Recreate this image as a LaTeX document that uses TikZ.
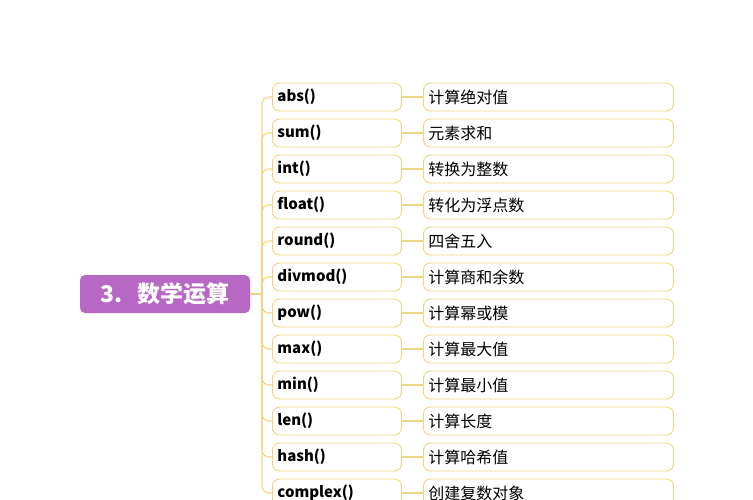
\documentclass[tikz,border=0pt]{standalone}
\usepackage{fontspec}
\setmainfont{Noto Sans CJK SC}
\usetikzlibrary{calc}
\definecolor{rootpurple}{RGB}{183,104,197}
\definecolor{boxyellow}{RGB}{240,214,130}

\tikzset{
  root/.style={fill=rootpurple, rounded corners=5pt, text=white, inner sep=0pt,
    minimum width=170pt, minimum height=38pt,
    font=\bfseries\fontsize{23}{23}\selectfont},
  fnbox/.style={draw=boxyellow, fill=white, rounded corners=7pt, anchor=west,
    line width=0.9pt, inner xsep=5pt, inner ysep=0pt, minimum height=28pt,
    text width=119pt, align=left, font=\bfseries\fontsize{15}{15}\selectfont},
  descbox/.style={draw=boxyellow, fill=white, rounded corners=7pt, anchor=west,
    line width=0.9pt, inner xsep=5pt, inner ysep=0pt, minimum height=28pt,
    text width=240pt, align=left, font=\fontsize{16}{16}\selectfont},
  link/.style={draw=boxyellow, line width=1.1pt}
}

\begin{document}
\begin{tikzpicture}[x=1pt, y=-1pt]
  \useasboundingbox (0,0) rectangle (753,499);

  \node [root] (math) at (165,294) {3.\hspace{14pt}数学运算};
  \coordinate (trunk) at (262,294);

  \node [fnbox] (abs)     at (272,97)  {abs()};
  \node [fnbox] (sum)     at (272,133) {sum()};
  \node [fnbox] (int)     at (272,169) {int()};
  \node [fnbox] (float)   at (272,205) {float()};
  \node [fnbox] (round)   at (272,241) {round()};
  \node [fnbox] (divmod)  at (272,277) {divmod()};
  \node [fnbox] (pow)     at (272,313) {pow()};
  \node [fnbox] (max)     at (272,349) {max()};
  \node [fnbox] (min)     at (272,385) {min()};
  \node [fnbox] (len)     at (272,421) {len()};
  \node [fnbox] (hash)    at (272,457) {hash()};
  \node [fnbox] (complex) at (272,493) {complex()};

  \node [descbox] (abs-d)     at (423,97)  {计算绝对值};
  \node [descbox] (sum-d)     at (423,133) {元素求和};
  \node [descbox] (int-d)     at (423,169) {转换为整数};
  \node [descbox] (float-d)   at (423,205) {转化为浮点数};
  \node [descbox] (round-d)   at (423,241) {四舍五入};
  \node [descbox] (divmod-d)  at (423,277) {计算商和余数};
  \node [descbox] (pow-d)     at (423,313) {计算幂或模};
  \node [descbox] (max-d)     at (423,349) {计算最大值};
  \node [descbox] (min-d)     at (423,385) {计算最小值};
  \node [descbox] (len-d)     at (423,421) {计算长度};
  \node [descbox] (hash-d)    at (423,457) {计算哈希值};
  \node [descbox] (complex-d) at (423,493) {创建复数对象};

  % root to trunk
  \draw [link] (math.east) -- (trunk);

  % trunk to functions
  \draw [link, rounded corners=7pt] (trunk) |- (abs.west);
  \draw [link, rounded corners=7pt] (trunk) |- (sum.west);
  \draw [link, rounded corners=7pt] (trunk) |- (int.west);
  \draw [link, rounded corners=7pt] (trunk) |- (float.west);
  \draw [link, rounded corners=7pt] (trunk) |- (round.west);
  \draw [link, rounded corners=7pt] (trunk) |- (divmod.west);
  \draw [link, rounded corners=7pt] (trunk) |- (pow.west);
  \draw [link, rounded corners=7pt] (trunk) |- (max.west);
  \draw [link, rounded corners=7pt] (trunk) |- (min.west);
  \draw [link, rounded corners=7pt] (trunk) |- (len.west);
  \draw [link, rounded corners=7pt] (trunk) |- (hash.west);
  \draw [link, rounded corners=7pt] (trunk) |- (complex.west);

  % functions to descriptions
  \draw [link] (abs.east)     -- (abs-d.west);
  \draw [link] (sum.east)     -- (sum-d.west);
  \draw [link] (int.east)     -- (int-d.west);
  \draw [link] (float.east)   -- (float-d.west);
  \draw [link] (round.east)   -- (round-d.west);
  \draw [link] (divmod.east)  -- (divmod-d.west);
  \draw [link] (pow.east)     -- (pow-d.west);
  \draw [link] (max.east)     -- (max-d.west);
  \draw [link] (min.east)     -- (min-d.west);
  \draw [link] (len.east)     -- (len-d.west);
  \draw [link] (hash.east)    -- (hash-d.west);
  \draw [link] (complex.east) -- (complex-d.west);
\end{tikzpicture}
\end{document}
